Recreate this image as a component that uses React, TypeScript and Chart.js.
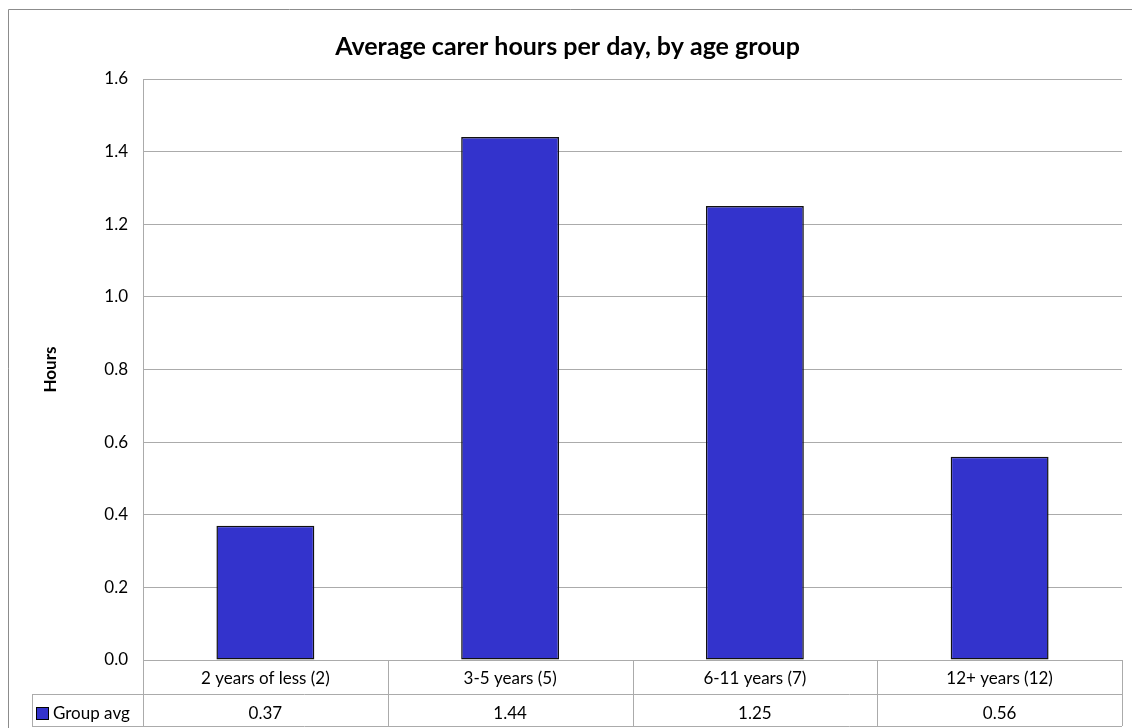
import React, { useEffect, useRef } from "react";
import { Chart, registerables } from "chart.js";

Chart.register(...registerables);

const chartTitle = "Average carer hours per day, by age group";
const axisTitle = "Hours";
const seriesName = "Group avg";
const categories = ["2 years of less (2)", "3-5 years (5)", "6-11 years (7)", "12+ years (12)"];
const groupAvg = [0.37, 1.44, 1.25, 0.56];
const yMin = 0;
const yMax = 1.6;
const yStep = 0.2;

const FONT = "Lato, 'Open Sans', sans-serif";
const BODY_SIZE = 17;
const BAR_FILL = "#3333cc";
const GRID = "#ababab";
const FRAME = "#8c8c8c";

// Draws the outer frame and the data table (category row + value row with legend key)
const tablePlugin = {
  id: "dataTable",
  afterDraw(chart: any) {
    const { ctx, chartArea } = chart;
    const xs = chart.scales.x;
    const n = categories.length;
    const colW = (chartArea.right - chartArea.left) / n;
    const top = chartArea.bottom;
    const row1 = top + 34;
    const row2 = top + 66;
    const keyLeft = 32;

    ctx.save();
    // outer chart frame
    ctx.strokeStyle = FRAME;
    ctx.lineWidth = 1;
    ctx.beginPath();
    ctx.moveTo(8.5, chart.height);
    ctx.lineTo(8.5, 9.5);
    ctx.lineTo(chart.width, 9.5);
    ctx.stroke();

    // table grid
    ctx.strokeStyle = GRID;
    ctx.beginPath();
    ctx.moveTo(chartArea.left, top + 0.5);
    ctx.lineTo(chartArea.right, top + 0.5);
    ctx.moveTo(keyLeft, row1 + 0.5);
    ctx.lineTo(chartArea.right, row1 + 0.5);
    ctx.moveTo(keyLeft, row2 + 0.5);
    ctx.lineTo(chartArea.right, row2 + 0.5);
    ctx.moveTo(keyLeft + 0.5, row1);
    ctx.lineTo(keyLeft + 0.5, row2);
    for (let i = 0; i <= n; i++) {
      const x = Math.round(chartArea.left + i * colW) + 0.5;
      ctx.moveTo(x, top);
      ctx.lineTo(x, row2);
    }
    ctx.stroke();

    // value row
    const cy = (row1 + row2) / 2 + 4;
    ctx.fillStyle = "#000";
    ctx.font = `${BODY_SIZE}px ${FONT}`;
    ctx.textAlign = "center";
    ctx.textBaseline = "middle";
    groupAvg.forEach((v, i) => {
      ctx.fillText(v.toFixed(2), xs.getPixelForValue(i), cy);
    });

    // legend key
    ctx.fillStyle = BAR_FILL;
    ctx.fillRect(36, cy - 7, 13, 13);
    ctx.strokeStyle = "#000";
    ctx.strokeRect(36.5, cy - 6.5, 12, 12);
    ctx.fillStyle = "#000";
    ctx.textAlign = "left";
    ctx.fillText(seriesName, 53, cy);
    ctx.restore();
  },
};

export default function App() {
  const canvasRef = useRef<HTMLCanvasElement | null>(null);

  useEffect(() => {
    if (!canvasRef.current) return;
    const chart = new Chart(canvasRef.current, {
      type: "bar",
      data: {
        labels: categories,
        datasets: [
          {
            label: seriesName,
            data: groupAvg,
            backgroundColor: BAR_FILL,
            borderColor: "#111",
            borderWidth: 1.5,
            borderSkipped: false,
            barPercentage: 0.4,
            categoryPercentage: 1.0,
          },
        ],
      },
      options: {
        responsive: false,
        animation: false,
        layout: { padding: { left: 13, right: 10, top: 0, bottom: 0 } },
        plugins: {
          legend: { display: false },
          tooltip: { enabled: false },
          title: {
            display: true,
            text: chartTitle,
            color: "#000",
            font: { family: FONT, size: 25, weight: "bold" },
            padding: { top: 32, bottom: 17 },
          },
        },
        scales: {
          x: {
            grid: { display: false },
            border: { display: false },
            ticks: {
              color: "#000",
              font: { family: FONT, size: BODY_SIZE },
              padding: 0,
              maxRotation: 0,
            },
            afterFit(scale: any) {
              scale.height = 68;
            },
          },
          y: {
            min: yMin,
            max: yMax,
            grid: { color: GRID, drawTicks: false },
            border: { display: true, color: GRID },
            ticks: {
              stepSize: yStep,
              color: "#000",
              font: { family: FONT, size: BODY_SIZE },
              padding: 15,
              callback: (v: any) => Number(v).toFixed(1),
            },
            title: {
              display: true,
              text: axisTitle,
              color: "#000",
              font: { family: FONT, size: BODY_SIZE, weight: "bold" },
              padding: { top: 27, bottom: 0 },
            },
            afterFit(scale: any) {
              scale.width = 130;
            },
          },
        },
      },
      plugins: [tablePlugin],
    });
    return () => chart.destroy();
  }, []);

  return (
    <div style={{ position: "fixed", left: 0, top: 0, width: 1132, height: 728, background: "#fff" }}>
      <canvas ref={canvasRef} width={1132} height={728} />
    </div>
  );
}
